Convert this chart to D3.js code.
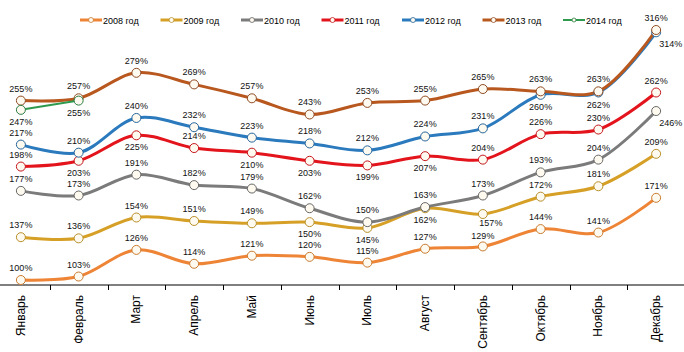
<!DOCTYPE html>
<html lang="ru">
<head>
    <meta charset="UTF-8">
    <title>Chart</title>
    <style>
        body { margin: 0; background: #fff; }
        svg { display: block; font-family: Arial, "Liberation Sans", sans-serif; }
    </style>
</head>
<body>
    <div id="graphic"></div>

    <script src="https://cdn.jsdelivr.net/npm/d3@7"></script>
    <script>
        var width = 684;
        var height = 352;

        var months = ['Январь', 'Февраль', 'Март', 'Апрель', 'Май', 'Июнь', 'Июль', 'Август', 'Сентябрь', 'Октябрь', 'Ноябрь', 'Декабрь'];
        var years = ['2008 год', '2009 год', '2010 год', '2011 год', '2012 год', '2013 год', '2014 год'];

        var v2008 = [100, 103, 126, 114, 121, 120, 115, 127, 129, 144, 141, 171];
        var v2009 = [137, 136, 154, 151, 149, 150, 145, 162, 157, 172, 181, 209];
        var v2010 = [177, 173, 191, 182, 179, 162, 150, 163, 173, 193, 204, 246];
        var v2011 = [198, 203, 225, 214, 210, 203, 199, 207, 204, 226, 230, 262];
        var v2012 = [217, 210, 240, 232, 223, 218, 212, 224, 231, 260, 262, 314];
        var v2013 = [255, 257, 279, 269, 257, 243, 253, 255, 265, 263, 263, 316];
        var v2014 = [247, 255];

        // label side: 1 = above, -1 = below, 2 = below right, 3 = close below right, 4 = close above
        var pos2008 = [1, 1, 1, 1, 1, 1, 1, 1, 4, 1, 1, 1];
        var pos2009 = [1, 1, 1, 1, 1, -1, -1, -1, 3, 1, 1, 1];
        var pos2010 = [1, 1, 1, 1, 1, 1, 1, 1, 1, 1, 1, 2];
        var pos2011 = [1, -1, -1, 1, -1, -1, -1, -1, 1, 1, 1, 1];
        var pos2012 = [1, 1, 1, 1, 1, 1, 1, 1, 1, -1, -1, 2];
        var pos2013 = [1, 1, 1, 1, 1, 1, 1, 1, 1, 1, 1, 1];
        var pos2014 = [-1, -1];

        var colors = ['#ee8435', '#d6a027', '#7b7b7b', '#e3141c', '#2a7abd', '#b8581f', '#2f9a4e'];
        var strokes = ['#c97a2e', '#b8902a', '#666666', '#c4141b', '#25659c', '#8e4a22', '#2a7d42'];

        var series = [v2008, v2009, v2010, v2011, v2012, v2013, v2014];
        var positions = [pos2008, pos2009, pos2010, pos2011, pos2012, pos2013, pos2014];

        var svg = d3.select('#graphic')
            .append('svg')
            .attr('width', width)
            .attr('height', height);

        var x = d3.scaleBand().domain(months).range([-8, 685]);
        var y = d3.scaleLinear().domain([100, 316]).range([280, 30]);
        var cx = function(i) { return x(months[i]) + x.bandwidth() / 2; };

        // x axis
        var axisY = 285;
        svg.append('line')
            .attr('x1', 0).attr('x2', width)
            .attr('y1', axisY).attr('y2', axisY)
            .attr('stroke', '#000').attr('stroke-width', 1);

        svg.selectAll('.tick')
            .data(months.slice(1))
            .join('line')
            .attr('x1', function(d) { return Math.round(x(d)) + 0.5; })
            .attr('x2', function(d) { return Math.round(x(d)) + 0.5; })
            .attr('y1', axisY).attr('y2', axisY + 5)
            .attr('stroke', '#000');

        svg.selectAll('.month')
            .data(months)
            .join('text')
            .attr('transform', function(d, i) { return 'translate(' + (cx(i) + 4) + ',295) rotate(-90)'; })
            .attr('text-anchor', 'end')
            .attr('font-size', '12px')
            .attr('fill', '#000')
            .text(function(d) { return d; });

        var line = d3.line()
            .x(function(d, i) { return cx(i); })
            .y(function(d) { return y(d); })
            .curve(d3.curveCatmullRom.alpha(0.5));

        series.forEach(function(vals, s) {
            var g = svg.append('g');
            g.append('path')
                .datum(vals)
                .attr('d', line)
                .attr('fill', 'none')
                .attr('stroke', colors[s])
                .attr('stroke-width', s === 6 ? 2 : 3);
        });

        series.forEach(function(vals, s) {
            var g = svg.append('g');
            g.selectAll('circle')
                .data(vals)
                .join('circle')
                .attr('cx', function(d, i) { return cx(i); })
                .attr('cy', function(d) { return y(d); })
                .attr('r', 4.5)
                .attr('fill', '#fffaf0')
                .attr('stroke', strokes[s])
                .attr('stroke-width', 1);
        });

        var dx = { 1: 0, '-1': 0, 2: 3, 3: 8, 4: 0 };
        var dy = { 1: -9, '-1': 15, 2: 15, 3: 12, 4: -7 };

        series.forEach(function(vals, s) {
            svg.append('g').selectAll('text')
                .data(vals)
                .join('text')
                .attr('x', function(d, i) { return cx(i) + dx[positions[s][i]]; })
                .attr('y', function(d, i) { return y(d) + dy[positions[s][i]]; })
                .attr('text-anchor', function(d, i) { return positions[s][i] === 2 ? 'start' : 'middle'; })
                .attr('font-size', '9px')
                .attr('fill', '#111')
                .text(function(d) { return d + '%'; });
        });

        // legend
        var legend = svg.append('g').attr('transform', 'translate(80,20)');
        var item = legend.selectAll('g')
            .data(years)
            .join('g')
            .attr('transform', function(d, i) { return 'translate(' + (i * 80.5) + ',0)'; });
        item.append('line')
            .attr('x1', 0).attr('x2', 22)
            .attr('y1', 0).attr('y2', 0)
            .attr('stroke', function(d, i) { return colors[i]; })
            .attr('stroke-width', function(d, i) { return i === 6 ? 2 : 3; });
        item.append('circle')
            .attr('cx', 11).attr('cy', 0)
            .attr('r', function(d, i) { return i === 6 ? 2 : 2.5; })
            .attr('fill', '#fffaf0')
            .attr('stroke', function(d, i) { return strokes[i]; })
            .attr('stroke-width', 0.8);
        item.append('text')
            .attr('x', 23).attr('y', 3.5)
            .attr('font-size', '9px')
            .attr('fill', '#000')
            .text(function(d) { return d; });
    </script>
</body>
</html>
